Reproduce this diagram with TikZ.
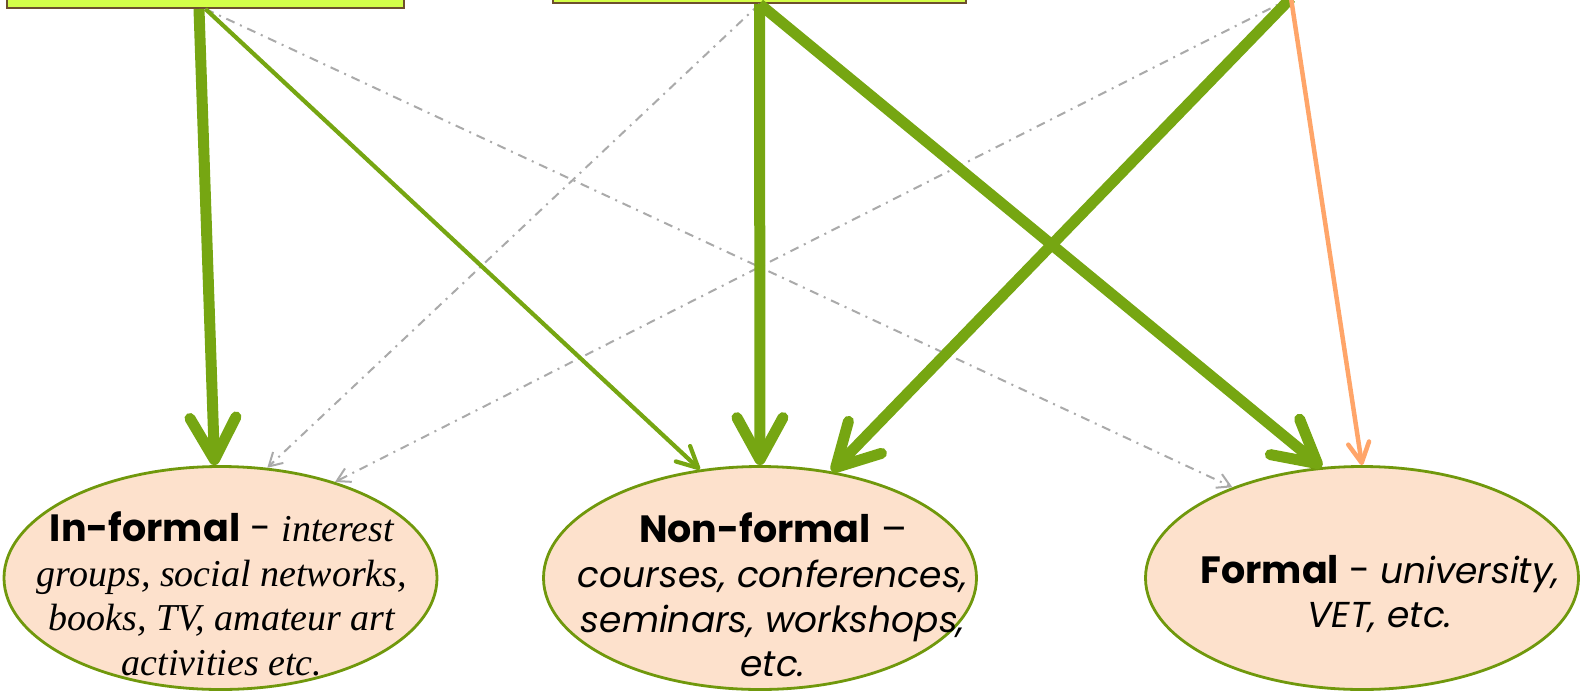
\documentclass[tikz,border=0pt]{standalone}
\usepackage{fontspec}
\setmainfont{Poppins}
\newfontfamily\serifit{Liberation Serif}
\usetikzlibrary{arrows.meta,shapes.geometric}
\definecolor{grn}{RGB}{118,166,18}
\definecolor{egrn}{RGB}{112,152,12}
\definecolor{peach}{RGB}{253,225,204}
\definecolor{lime}{RGB}{212,255,72}
\definecolor{brn}{RGB}{110,80,45}
\definecolor{gry}{RGB}{170,170,170}
\definecolor{org}{RGB}{255,165,105}
\newcommand\infit[1]{{\serifit\itshape #1}}
\newcommand\sfit[1]{{\fontsize{36}{44.7}\selectfont\itshape #1}}
\begin{document}
\begin{tikzpicture}[x=1pt,y=-1pt,
  srcbox/.style={draw=brn,line width=2pt,fill=lime,inner sep=0pt},
  goal/.style={ellipse,draw=egrn,line width=2.8pt,fill=peach,inner sep=0pt,minimum width=433pt,minimum height=223pt},
  lbl/.style={align=center,font=\fontsize{38}{44.7}\selectfont,inner sep=0pt},
  heavy/.style={draw=grn,line width=11pt,-{Straight Barb[length=42pt,width=46pt,line cap=round,line join=round]}},
  medium/.style={draw=grn,line width=4.2pt,-{Straight Barb[length=21pt,width=21pt,line cap=round,line join=round]}},
  orng/.style={draw=org,line width=4.5pt,-{Straight Barb[length=20pt,width=21pt,line cap=round,line join=round]}},
  faint/.style={draw=gry,line width=2pt,dash pattern=on 9pt off 6pt on 2pt off 6pt,-{Straight Barb[length=13pt,width=15pt]}}]
\useasboundingbox (0,0) rectangle (1582,694);
% source boxes (partly above the page)
\node[srcbox,minimum width=397pt,minimum height=68pt] (b1) at (205.5,-26) {};
\node[srcbox,minimum width=413pt,minimum height=63pt] (b2) at (759.5,-28.5) {};
\coordinate (b3) at (1291,-2);
% targets
\node[goal] (inf) at (220.5,578) {};
\node[goal] (non) at (760,578) {};
\node[goal] (frm) at (1362,578) {};
\node[lbl] (inft) at (222,594) {\textbf{In-formal} - \infit{interest}\\ \infit{groups, social networks,}\\ \infit{books, TV, amateur art}\\ \infit{activities etc.}};
\node[lbl] (nont) at (773,595) {\textbf{Non-formal} --\\ \sfit{courses, conferences,}\\ \sfit{seminars, workshops,}\\ \sfit{etc.}};
\node[lbl] (frmt) at (1380,594) {\textbf{Formal} - \sfit{university,}\\ \sfit{VET, etc.}};
% connectors
\draw[faint] (b1.south) -- (frm.145.7);
\draw[faint] (b2.south) -- (inf.67.5);
\draw[faint] (b3) -- (inf.40.1);
\draw[heavy] ([xshift=-6.5pt]b1.south) -- (inf.93.8);
\draw[medium] (b1.south) -- (non.119.4);
\draw[heavy] (b2.south) -- (non.90);
\draw[heavy] (b2.south) -- (frm.110.3);
\draw[heavy] (b3) -- (non.56.6);
\draw[orng] (b3) -- (frm.90);
\end{tikzpicture}
\end{document}
